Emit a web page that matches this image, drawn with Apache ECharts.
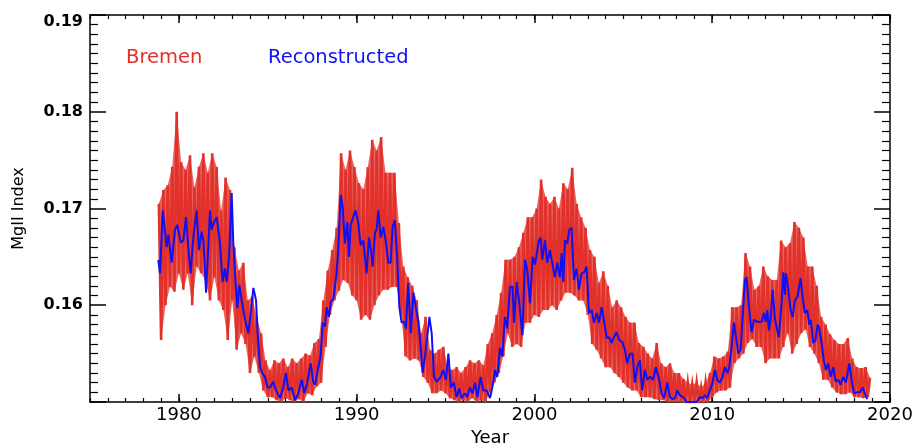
<!DOCTYPE html>
<html>
<head>
<meta charset="utf-8">
<title>MgII Index</title>
<script src="https://cdn.jsdelivr.net/npm/echarts@6/dist/echarts.min.js"></script>
<style>
  html, body { margin: 0; padding: 0; background: #fff; }
  #chart { width: 913px; height: 446px; }
</style>
</head>
<body>
<div id="chart"></div>
<script>
// Bremen composite: upper and lower excursions per quarter-year bin
const bremenStart = 1978.875;
const bremenStep = 0.25;
const bremenHigh = [
  0.1705, 0.1719, 0.1724, 0.1743, 0.1800, 0.1748, 0.1740, 0.1755, 0.1722, 0.1743,
  0.1757, 0.1737, 0.1757, 0.1743, 0.1698, 0.1732, 0.1719, 0.1660, 0.1636, 0.1644,
  0.1605, 0.1609, 0.1588, 0.1571, 0.1543, 0.1533, 0.1543, 0.1540, 0.1545, 0.1536,
  0.1545, 0.1540, 0.1545, 0.1550, 0.1548, 0.1561, 0.1565, 0.1605, 0.1636, 0.1657,
  0.1680, 0.1757, 0.1740, 0.1760, 0.1743, 0.1726, 0.1720, 0.1743, 0.1771, 0.1760,
  0.1774, 0.1737, 0.1737, 0.1737, 0.1685, 0.1640, 0.1629, 0.1620, 0.1605, 0.1571,
  0.1588, 0.1554, 0.1550, 0.1554, 0.1557, 0.1536, 0.1533, 0.1536, 0.1530, 0.1536,
  0.1543, 0.1540, 0.1543, 0.1538, 0.1560, 0.1571, 0.1590, 0.1613, 0.1647, 0.1647,
  0.1650, 0.1660, 0.1675, 0.1691, 0.1691, 0.1700, 0.1730, 0.1712, 0.1705, 0.1712,
  0.1700, 0.1726, 0.1720, 0.1742, 0.1705, 0.1691, 0.1680, 0.1657, 0.1650, 0.1623,
  0.1635, 0.1620, 0.1598, 0.1605, 0.1598, 0.1588, 0.1582, 0.1582, 0.1561, 0.1557,
  0.1550, 0.1545, 0.1561, 0.1540, 0.1536, 0.1540, 0.1530, 0.1530, 0.1524, 0.1520,
  0.1518, 0.1520, 0.1515, 0.1520, 0.1530, 0.1547, 0.1545, 0.1547, 0.1552, 0.1598,
  0.1598, 0.1600, 0.1654, 0.1640, 0.1616, 0.1620, 0.1640, 0.1630, 0.1626, 0.1626,
  0.1667, 0.1660, 0.1664, 0.1686, 0.1680, 0.1670, 0.1640, 0.1640, 0.1620, 0.1588,
  0.1580, 0.1570, 0.1564, 0.1560, 0.1560, 0.1566, 0.1545, 0.1536, 0.1535, 0.1536,
  0.1525
];
const bremenLow = [
  0.1564, 0.1600, 0.1619, 0.1614, 0.1633, 0.1616, 0.1633, 0.1600, 0.1640, 0.1633,
  0.1626, 0.1605, 0.1629, 0.1605, 0.1595, 0.1564, 0.1605, 0.1554, 0.1571, 0.1560,
  0.1530, 0.1547, 0.1530, 0.1512, 0.1505, 0.1505, 0.1502, 0.1500, 0.1504, 0.1502,
  0.1500, 0.1503, 0.1500, 0.1509, 0.1507, 0.1516, 0.1520, 0.1557, 0.1590, 0.1605,
  0.1615, 0.1626, 0.1623, 0.1610, 0.1605, 0.1585, 0.1590, 0.1585, 0.1600, 0.1610,
  0.1616, 0.1616, 0.1619, 0.1619, 0.1590, 0.1547, 0.1543, 0.1545, 0.1543, 0.1526,
  0.1520, 0.1509, 0.1509, 0.1512, 0.1509, 0.1504, 0.1502, 0.1500, 0.1502, 0.1500,
  0.1504, 0.1500, 0.1502, 0.1500, 0.1510, 0.1520, 0.1530, 0.1547, 0.1571, 0.1557,
  0.1560, 0.1557, 0.1582, 0.1582, 0.1590, 0.1588, 0.1595, 0.1595, 0.1600, 0.1595,
  0.1605, 0.1613, 0.1613, 0.1610, 0.1605, 0.1605, 0.1590, 0.1560, 0.1554, 0.1545,
  0.1536, 0.1536, 0.1530, 0.1526, 0.1520, 0.1515, 0.1512, 0.1512, 0.1505, 0.1505,
  0.1505, 0.1503, 0.1502, 0.1502, 0.1500, 0.1500, 0.1500, 0.1500, 0.1500, 0.1500,
  0.1500, 0.1500, 0.1500, 0.1500, 0.1505, 0.1510, 0.1512, 0.1512, 0.1515, 0.1540,
  0.1545, 0.1550, 0.1561, 0.1565, 0.1557, 0.1557, 0.1540, 0.1545, 0.1545, 0.1545,
  0.1557, 0.1571, 0.1550, 0.1560, 0.1571, 0.1575, 0.1557, 0.1550, 0.1540, 0.1523,
  0.1523, 0.1515, 0.1510, 0.1508, 0.1508, 0.1510, 0.1505, 0.1505, 0.1504, 0.1505
];

// Reconstructed index
const reconYears = [
  1978.84, 1978.94, 1979.09, 1979.31, 1979.41, 1979.59, 1979.78, 1979.91, 1980.10, 1980.25,
  1980.40, 1980.53, 1980.66, 1980.81, 1981.00, 1981.13, 1981.28, 1981.38, 1981.53, 1981.75,
  1981.84, 1981.98, 1982.13, 1982.31, 1982.46, 1982.59, 1982.69, 1982.82, 1982.97, 1983.06,
  1983.19, 1983.29, 1983.40, 1983.53, 1983.72, 1983.91, 1984.04, 1984.19, 1984.34, 1984.43,
  1984.56, 1984.69, 1984.84, 1984.98,
  1985.12, 1985.31, 1985.46, 1985.69, 1985.87, 1986.02, 1986.16, 1986.34, 1986.53, 1986.72,
  1986.91, 1987.06, 1987.22, 1987.41, 1987.56, 1987.66, 1987.84, 1987.97, 1988.09, 1988.22,
  1988.31, 1988.44, 1988.54, 1988.69, 1988.87, 1988.97, 1989.10, 1989.21, 1989.34, 1989.47,
  1989.57, 1989.66, 1989.76, 1989.94, 1990.09, 1990.22, 1990.37, 1990.56, 1990.69, 1990.81,
  1990.90, 1991.03, 1991.12, 1991.22, 1991.35, 1991.50, 1991.63, 1991.78, 1991.91,
  1992.02, 1992.15, 1992.29, 1992.40, 1992.53, 1992.66, 1992.77, 1992.90, 1993.04, 1993.19,
  1993.32, 1993.47, 1993.60, 1993.71, 1993.84, 1993.97, 1994.09, 1994.22, 1994.35, 1994.50,
  1994.69, 1994.87, 1995.02, 1995.16, 1995.30, 1995.47, 1995.62, 1995.77, 1995.90, 1996.09,
  1996.22, 1996.37, 1996.52, 1996.66, 1996.79, 1996.97, 1997.12, 1997.31, 1997.50, 1997.63,
  1997.78, 1997.91, 1998.06, 1998.19, 1998.34, 1998.47, 1998.62, 1998.77,
  1998.85, 1999.00, 1999.15, 1999.32, 1999.47, 1999.60, 1999.75, 1999.90, 2000.03, 2000.12,
  2000.25, 2000.35, 2000.44, 2000.59, 2000.72, 2000.87, 2001.00, 2001.15, 2001.28, 2001.43,
  2001.53, 2001.62, 2001.72, 2001.85, 2001.96, 2002.09, 2002.22, 2002.37, 2002.50, 2002.65,
  2002.79, 2002.93, 2003.07, 2003.22, 2003.35, 2003.50, 2003.63, 2003.78, 2003.93, 2004.06,
  2004.19, 2004.34, 2004.47, 2004.62, 2004.77, 2004.94, 2005.09, 2005.22, 2005.37,
  2005.52, 2005.65, 2005.78, 2005.93, 2006.06, 2006.21, 2006.35, 2006.50, 2006.68, 2006.83,
  2007.02, 2007.15, 2007.30, 2007.47, 2007.62, 2007.77, 2007.90, 2008.03, 2008.18, 2008.37,
  2008.56, 2008.75, 2008.93, 2009.12, 2009.31, 2009.46, 2009.59, 2009.72, 2009.87, 2010.02,
  2010.15, 2010.28, 2010.43, 2010.58, 2010.71, 2010.85, 2010.96, 2011.09, 2011.22, 2011.33,
  2011.47, 2011.60, 2011.71, 2011.84, 2011.93, 2012.07, 2012.21, 2012.35,
  2012.40, 2012.53, 2012.78, 2012.91, 2013.00, 2013.10, 2013.19, 2013.28, 2013.40, 2013.53,
  2013.62, 2013.75, 2013.90, 2014.00, 2014.09, 2014.15, 2014.28, 2014.41, 2014.52, 2014.65,
  2014.80, 2014.97, 2015.08, 2015.21, 2015.35, 2015.46, 2015.55, 2015.68, 2015.81, 2015.93,
  2016.02, 2016.15, 2016.28, 2016.40, 2016.53, 2016.66, 2016.81, 2016.94, 2017.09, 2017.22,
  2017.37, 2017.52, 2017.71, 2017.84, 2017.97, 2018.12, 2018.31, 2018.46, 2018.59, 2018.72
];
const reconValues = [
  0.1647, 0.1633, 0.1698, 0.1660, 0.1673, 0.1644, 0.1678, 0.1683, 0.1665, 0.1667,
  0.1691, 0.1660, 0.1633, 0.1670, 0.1698, 0.1657, 0.1676, 0.1667, 0.1613, 0.1698,
  0.1678, 0.1686, 0.1691, 0.1664, 0.1624, 0.1638, 0.1624, 0.1650, 0.1716, 0.1664,
  0.1623, 0.1597, 0.1621, 0.1605, 0.1585, 0.1571, 0.1592, 0.1618, 0.1605, 0.1571,
  0.1536, 0.1530, 0.1526, 0.1515,
  0.1515, 0.1521, 0.1512, 0.1504, 0.1515, 0.1530, 0.1512, 0.1515, 0.1502, 0.1509,
  0.1523, 0.1509, 0.1520, 0.1540, 0.1521, 0.1518, 0.1536, 0.1547, 0.1582, 0.1578,
  0.1598, 0.1588, 0.1603, 0.1607, 0.1633, 0.1660, 0.1714, 0.1702, 0.1664, 0.1686,
  0.1650, 0.1683, 0.1681, 0.1698, 0.1685, 0.1662, 0.1667, 0.1633, 0.1670, 0.1657,
  0.1640, 0.1675, 0.1678, 0.1698, 0.1670, 0.1681, 0.1667, 0.1644, 0.1644,
  0.1681, 0.1688, 0.1644, 0.1598, 0.1582, 0.1583, 0.1576, 0.1623, 0.1571, 0.1613,
  0.1598, 0.1583, 0.1557, 0.1530, 0.1547, 0.1567, 0.1588, 0.1571, 0.1526, 0.1521,
  0.1525, 0.1533, 0.1523, 0.1550, 0.1515, 0.1520, 0.1505, 0.1514, 0.1504, 0.1509,
  0.1505, 0.1515, 0.1509, 0.1520, 0.1505, 0.1526, 0.1512, 0.1512, 0.1504, 0.1515,
  0.1533, 0.1526, 0.1556, 0.1547, 0.1588, 0.1576, 0.1619, 0.1619,
  0.1582, 0.1624, 0.1602, 0.1569, 0.1647, 0.1636, 0.1602, 0.1650, 0.1642, 0.1644,
  0.1667, 0.1670, 0.1647, 0.1667, 0.1644, 0.1657, 0.1644, 0.1629, 0.1644, 0.1629,
  0.1654, 0.1624, 0.1667, 0.1664, 0.1678, 0.1680, 0.1626, 0.1638, 0.1616, 0.1633,
  0.1634, 0.1640, 0.1592, 0.1595, 0.1582, 0.1592, 0.1582, 0.1598, 0.1582, 0.1566,
  0.1567, 0.1561, 0.1567, 0.1572, 0.1564, 0.1562, 0.1554, 0.1540, 0.1550,
  0.1550, 0.1520, 0.1536, 0.1543, 0.1512, 0.1533, 0.1523, 0.1526, 0.1523, 0.1536,
  0.1523, 0.1509, 0.1504, 0.1520, 0.1505, 0.1503, 0.1504, 0.1512, 0.1507, 0.1505,
  0.1500, 0.1500, 0.1500, 0.1500, 0.1505, 0.1504, 0.1507, 0.1504, 0.1512, 0.1520,
  0.1533, 0.1523, 0.1520, 0.1526, 0.1536, 0.1530, 0.1536, 0.1557, 0.1582, 0.1582,
  0.1550, 0.1554, 0.1588, 0.1626, 0.1629, 0.1598, 0.1572, 0.1585,
  0.1587, 0.1583, 0.1583, 0.1592, 0.1583, 0.1595, 0.1574, 0.1585, 0.1616, 0.1585,
  0.1587, 0.1567, 0.1602, 0.1634, 0.1611, 0.1633, 0.1616, 0.1595, 0.1588, 0.1605,
  0.1609, 0.1628, 0.1609, 0.1592, 0.1595, 0.1580, 0.1585, 0.1561, 0.1564, 0.1580,
  0.1576, 0.1561, 0.1543, 0.1533, 0.1540, 0.1526, 0.1536, 0.1521, 0.1523, 0.1518,
  0.1526, 0.1520, 0.1540, 0.1523, 0.1509, 0.1510, 0.1510, 0.1515, 0.1509, 0.1503
];

// Axis ticks and labels
const yearTicks = [1980, 1990, 2000, 2010, 2020];
const indexLabels = ['0.16', '0.17', '0.18', '0.19'];

// Interleave the high/low excursions so the line traces the full daily range
const bremenData = [];
bremenHigh.forEach((hi, i) => {
  const t = bremenStart + i * bremenStep;
  bremenData.push([t, hi]);
  if (i < bremenLow.length) bremenData.push([t + bremenStep / 2, bremenLow[i]]);
});
// Outline of the whole daily range: highs forward, lows back
const bremenHighPts = bremenHigh.map((v, i) => [bremenStart + i * bremenStep, v]);
const bremenLowPts = bremenLow.map((v, i) => [bremenStart + i * bremenStep + bremenStep / 2, v]);
const reconData = reconYears.map((t, i) => [t, reconValues[i]]);

const RED = '#e2302a';
const BLUE = '#1010f5';
const FONT = 'DejaVu Sans';
const frame = { show: true, lineStyle: { color: '#000', width: 1.5 } };
const yLabelFont = { color: '#000', fontFamily: FONT, fontSize: 16, fontWeight: 'bold' };

function majorX(position, withLabels) {
  return {
    type: 'value', position, min: 1975, max: 2020,
    axisLine: frame,
    splitLine: { show: false },
    axisTick: { show: true, inside: true, length: 8, customValues: yearTicks,
                lineStyle: { color: '#000', width: 1.5 } },
    axisLabel: withLabels
      ? { show: true, customValues: yearTicks, margin: 4, color: '#000',
          fontFamily: FONT, fontSize: 18, formatter: v => String(Math.round(v)) }
      : { show: false },
    name: withLabels ? 'Year' : '',
    nameLocation: 'middle', nameGap: 27, nameMoveOverlap: false,
    nameTextStyle: { color: '#000', fontFamily: FONT, fontSize: 18, verticalAlign: 'top' }
  };
}
function minorX(position) {
  return {
    type: 'value', position, min: 1975, max: 2020, interval: 1,
    axisLine: { show: false }, splitLine: { show: false },
    axisTick: { show: true, inside: true, length: 4, lineStyle: { color: '#000', width: 1.2 } },
    axisLabel: { show: false }
  };
}
function indexAxis(position, withLabels) {
  return {
    type: 'value', position, min: 0.15, max: 0.19, interval: 0.01,
    axisLine: frame, splitLine: { show: false },
    axisTick: { show: true, inside: true, length: 16, lineStyle: { color: '#000', width: 1.5 } },
    minorTick: { show: true, splitNumber: 10, length: 8, lineStyle: { color: '#000', width: 1.2 } },
    minorSplitLine: { show: false },
    axisLabel: withLabels
      ? Object.assign({ show: true, margin: 7,
          formatter: v => {
            const s = v.toFixed(2);
            if (!indexLabels.includes(s)) return '';
            // the top label sits just below the frame corner
            return s === '0.19' ? '{top|' + s + '}' : s;
          },
          rich: { top: Object.assign({ padding: [13, 0, 0, 0] }, yLabelFont) } }, yLabelFont)
      : { show: false },
    name: withLabels ? 'MgII Index' : '',
    nameLocation: 'middle', nameRotate: 90, nameGap: 63, nameMoveOverlap: false,
    nameTextStyle: { color: '#000', fontFamily: FONT, fontSize: 16 }
  };
}

const chart = echarts.init(document.getElementById('chart'), null, { renderer: 'canvas' });
chart.setOption({
  animation: false,
  backgroundColor: '#fff',
  grid: { left: 90, right: 23, top: 15, bottom: 44, outerBoundsMode: 'none', containLabel: false },
  xAxis: [majorX('bottom', true), minorX('bottom'), majorX('top', false), minorX('top')],
  yAxis: [indexAxis('left', true), indexAxis('right', false)],
  graphic: [
    { type: 'text', left: 126, top: 48,
      style: { text: 'Bremen', fill: RED, font: '19.5px "DejaVu Sans"' } },
    { type: 'text', left: 268, top: 48,
      style: { text: 'Reconstructed', fill: BLUE, font: '19.5px "DejaVu Sans"' } }
  ],
  series: [
    { name: 'Bremen range', type: 'custom', xAxisIndex: 0, yAxisIndex: 0,
      data: [0], silent: true, z: 1, clip: true,
      renderItem: (params, api) => {
        const pts = bremenHighPts.map(p => api.coord(p))
          .concat(bremenLowPts.slice().reverse().map(p => api.coord(p)));
        return { type: 'polygon', shape: { points: pts },
                 style: { fill: RED, opacity: 0.75 } };
      } },
    { name: 'Bremen', type: 'line', xAxisIndex: 0, yAxisIndex: 0,
      data: bremenData, showSymbol: false, symbol: 'none',
      lineStyle: { color: RED, width: 2.6, join: 'miter' }, z: 2 },
    { name: 'Reconstructed', type: 'line', xAxisIndex: 0, yAxisIndex: 0,
      data: reconData, showSymbol: false, symbol: 'none',
      lineStyle: { color: BLUE, width: 2 }, z: 3 }
  ]
});
</script>
</body>
</html>
